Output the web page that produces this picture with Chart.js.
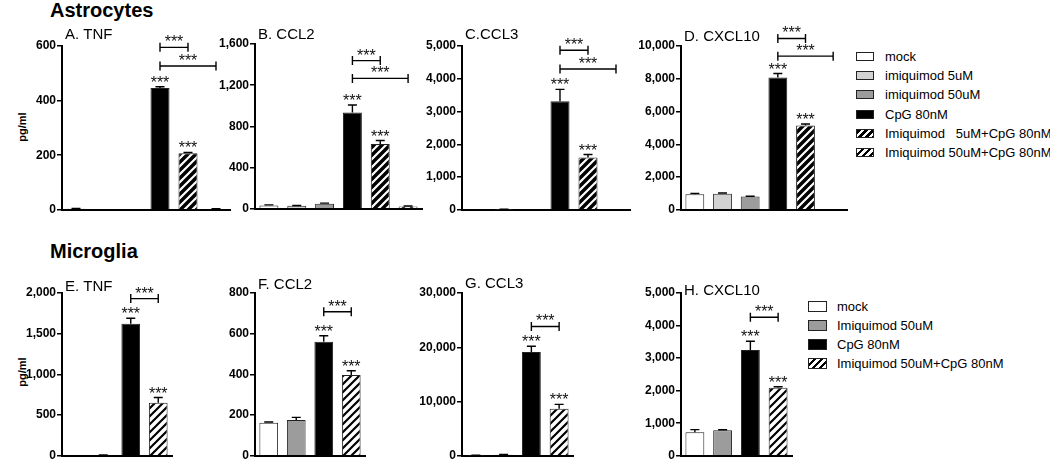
<!DOCTYPE html>
<html>
<head>
<meta charset="utf-8">
<script src="https://cdn.jsdelivr.net/npm/chart.js@4.4.0/dist/chart.umd.min.js"></script>
<style>
  body { margin: 0; background: #fff; width: 1050px; height: 463px; position: relative; overflow: hidden; font-family: "Liberation Sans", Arial, sans-serif; color: #000; }
  canvas { position: absolute; }
  .head { position: absolute; font-weight: bold; font-size: 20px; line-height: 20px; }
  .ylab { position: absolute; width: 40px; text-align: center; font-weight: bold; font-size: 11px; line-height: 14px; transform: rotate(-90deg); }
  .item { position: absolute; white-space: pre; font-size: 13px; line-height: 19px; height: 19px; }
  .sw { position: absolute; border: 1px solid #222; box-sizing: border-box; }
</style>
</head>
<body>
<div class="head" style="left:50px; top:0px;">Astrocytes</div>
<div class="head" style="left:50px; top:241px;">Microglia</div>
<div class="ylab" style="left:2px; top:120px;">pg/ml</div>
<div class="ylab" style="left:2px; top:365px;">pg/ml</div>
<div id="legendTop"></div>
<div id="legendBottom"></div>

<script>
'use strict';

// groups
const astroGroups = ['mock', 'imiquimod 5uM', 'imiquimod 50uM', 'CpG 80nM', 'Imiquimod   5uM+CpG 80nM', 'Imiquimod 50uM+CpG 80nM'];
const microGroups = ['mock', 'Imiquimod 50uM', 'CpG 80nM', 'Imiquimod 50uM+CpG 80nM'];

// astrocytes (pg/ml, mean and error)
const tnfAstro = [4, 0, 0, 446, 207, 3];
const tnfAstroErr = [1, 0, 0, 5, 3, 1];
const ccl2Astro = [33, 29, 48, 936, 629, 23];
const ccl2AstroErr = [5, 3, 7, 72, 34, 4];
const ccl3Astro = [0, 12, 0, 3313, 1596, 0];
const ccl3AstroErr = [0, 4, 0, 362, 90, 0];
const cxcl10Astro = [945, 987, 807, 8070, 5140, 0];
const cxcl10AstroErr = [60, 40, 18, 250, 100, 0];

// microglia
const tnfMicro = [0, 8, 1621, 652];
const tnfMicroErr = [0, 2, 69, 64];
const ccl2Micro = [163, 176, 560, 397];
const ccl2MicroErr = [3, 13, 30, 21];
const ccl3Micro = [100, 200, 19120, 8690];
const ccl3MicroErr = [30, 50, 1080, 780];
const cxcl10Micro = [724, 784, 3247, 2091];
const cxcl10MicroErr = [79, 16, 271, 29];

// tick labels
const ticksA = [0, 200, 400, 600];
const ticksB = [0, 400, 800, 1200, 1600];
const ticksC = [0, 1000, 2000, 3000, 4000, 5000];
const ticksD = [0, 2000, 4000, 6000, 8000, 10000];
const ticksE = [0, 500, 1000, 1500, 2000];
const ticksF = [0, 200, 400, 600, 800];
const ticksG = [0, 10000, 20000, 30000];
const ticksH = [0, 1000, 2000, 3000, 4000, 5000];

// significance
const starsAstro = ['', '', '', '***', '***', ''];
const starsMicro = ['', '', '***', '***'];
const bracketsA = [[3, 4, 595], [3, 5, 527]];
const bracketsB = [[3, 4, 1439], [3, 5, 1266]];
const bracketsC = [[3, 4, 4870], [3, 5, 4300]];
const bracketsD = [[3, 4, 10460], [3, 5, 9380]];
const bracketsE = [[2, 3, 1931]];
const bracketsF = [[2, 3, 708]];
const bracketsG = [[2, 3, 23830]];
const bracketsH = [[2, 3, 4255]];

const FONT = '"Liberation Sans", Arial, sans-serif';

// hatch patterns
function makeHatch(bg, fg, lw) {
  let c = document.createElement('canvas');
  c.width = 8; c.height = 8;
  let g = c.getContext('2d');
  g.fillStyle = bg;
  g.fillRect(0, 0, 8, 8);
  g.strokeStyle = fg;
  g.lineWidth = lw;
  g.beginPath();
  g.moveTo(-2, 10); g.lineTo(10, -2);
  g.moveTo(-6, 6); g.lineTo(6, -6);
  g.moveTo(2, 14); g.lineTo(14, 2);
  g.stroke();
  return g.createPattern(c, 'repeat');
}
const darkHatch = makeHatch('#000', '#fff', 2.2);
const lightHatch = makeHatch('#fff', '#000', 2.2);

const astroColors = ['#ffffff', '#d2d2d2', '#9c9c9c', '#000000', darkHatch, lightHatch];
const microColors = ['#ffffff', '#9c9c9c', '#000000', lightHatch];

let panels = [
  {title: 'A. TNF', labels: astroGroups, values: tnfAstro, errors: tnfAstroErr, ticks: ticksA, stars: starsAstro, brackets: bracketsA, colors: astroColors, left: 62, right: 230, top: 46, bottom: 212, canvasTop: 0, titleDy: -11},
  {title: 'B. CCL2', labels: astroGroups, values: ccl2Astro, errors: ccl2AstroErr, ticks: ticksB, stars: starsAstro, brackets: bracketsB, colors: astroColors, left: 255, right: 422, top: 44, bottom: 211, canvasTop: 0, titleDy: -9},
  {title: 'C.CCL3', labels: astroGroups, values: ccl3Astro, errors: ccl3AstroErr, ticks: ticksC, stars: starsAstro, brackets: bracketsC, colors: astroColors, left: 462, right: 630, top: 46, bottom: 212, canvasTop: 0, titleDy: -11},
  {title: 'D. CXCL10', labels: astroGroups, values: cxcl10Astro, errors: cxcl10AstroErr, ticks: ticksD, stars: starsAstro, brackets: bracketsD, colors: astroColors, left: 681, right: 847, top: 46, bottom: 212, canvasTop: 0, titleDy: -9},
  {title: 'E. TNF', labels: microGroups, values: tnfMicro, errors: tnfMicroErr, ticks: ticksE, stars: starsMicro, brackets: bracketsE, colors: microColors, left: 62, right: 172, top: 293, bottom: 458, canvasTop: 236, titleDy: -6},
  {title: 'F. CCL2', labels: microGroups, values: ccl2Micro, errors: ccl2MicroErr, ticks: ticksF, stars: starsMicro, brackets: bracketsF, colors: microColors, left: 255, right: 365, top: 293, bottom: 458, canvasTop: 236, titleDy: -8},
  {title: 'G. CCL3', labels: microGroups, values: ccl3Micro, errors: ccl3MicroErr, ticks: ticksG, stars: starsMicro, brackets: bracketsG, colors: microColors, left: 462, right: 573, top: 293, bottom: 458, canvasTop: 236, titleDy: -9},
  {title: 'H. CXCL10', labels: microGroups, values: cxcl10Micro, errors: cxcl10MicroErr, ticks: ticksH, stars: starsMicro, brackets: bracketsH, colors: microColors, left: 681, right: 792, top: 293, bottom: 458, canvasTop: 236, titleDy: -2}
];

// error bars, stars, brackets and panel title
function makeMarks(p) {
  return {
    id: 'marks',
    afterDatasetsDraw(chart) {
      let ctx = chart.ctx;
      let y = chart.scales.y;
      let meta = chart.getDatasetMeta(0);
      let area = chart.chartArea;
      ctx.save();
      ctx.strokeStyle = '#000';
      ctx.fillStyle = '#111';
      ctx.lineWidth = 1.4;
      ctx.textAlign = 'center';
      ctx.textBaseline = 'alphabetic';
      ctx.font = '16px ' + FONT;

      for (let i = 0; i < p.values.length; i++) {
        let cx = meta.data[i].x;
        let v = p.values[i];
        let e = p.errors[i];
        let yTop = y.getPixelForValue(v + e);
        if (e > 0) {
          ctx.beginPath();
          ctx.moveTo(cx, y.getPixelForValue(v));
          ctx.lineTo(cx, yTop);
          ctx.moveTo(cx - 4.5, yTop);
          ctx.lineTo(cx + 4.5, yTop);
          ctx.stroke();
        }
        if (p.stars[i]) {
          ctx.fillText(p.stars[i], cx, yTop + 1);
        }
      }

      p.brackets.forEach(b => {
        let x1 = meta.data[b[0]].x;
        let x2 = meta.data[b[1]].x;
        let yy = y.getPixelForValue(b[2]);
        ctx.beginPath();
        ctx.moveTo(x1, yy); ctx.lineTo(x2, yy);
        ctx.moveTo(x1, yy - 4.5); ctx.lineTo(x1, yy + 4.5);
        ctx.moveTo(x2, yy - 4.5); ctx.lineTo(x2, yy + 4.5);
        ctx.stroke();
        ctx.fillText('***', (x1 + x2) / 2, yy);
      });

      ctx.font = '15px ' + FONT;
      ctx.fillStyle = '#000';
      ctx.textAlign = 'left';
      ctx.textBaseline = 'middle';
      ctx.fillText(p.title, area.left + 3, area.top + p.titleDy);
      ctx.restore();
    }
  };
}

panels.forEach(p => {
  let canvas = document.createElement('canvas');
  let w = p.right - p.left + 64;
  let h = p.bottom - p.canvasTop + 6;
  canvas.width = w;
  canvas.height = h;
  canvas.style.width = w + 'px';
  canvas.style.height = h + 'px';
  canvas.style.left = (p.left - 60) + 'px';
  canvas.style.top = p.canvasTop + 'px';
  document.body.appendChild(canvas);

  new Chart(canvas.getContext('2d'), {
    type: 'bar',
    data: {
      labels: p.labels,
      datasets: [{
        data: p.values,
        backgroundColor: p.colors,
        borderColor: '#222',
        borderWidth: 1,
        barPercentage: 0.68,
        categoryPercentage: 1
      }]
    },
    options: {
      responsive: false,
      animation: false,
      devicePixelRatio: 1,
      layout: {padding: {left: 0, right: 4, top: p.top - p.canvasTop, bottom: 6}},
      plugins: {legend: {display: false}, tooltip: {enabled: false}},
      scales: {
        x: {
          grid: {display: false},
          ticks: {display: false},
          border: {display: true, color: '#000', width: 2},
          afterFit: s => { s.height = 0; }
        },
        y: {
          min: 0,
          max: p.ticks[p.ticks.length - 1],
          afterBuildTicks: s => { s.ticks = p.ticks.map(v => ({value: v})); },
          afterFit: s => { s.width = 60; },
          grid: {drawOnChartArea: false, drawTicks: true, tickLength: 5, color: '#000', lineWidth: 1.5},
          border: {color: '#000', width: 2},
          ticks: {
            color: '#000',
            padding: 1,
            font: {family: FONT, size: 12, weight: 'bold'},
            callback: v => v.toLocaleString('en-US')
          }
        }
      }
    },
    plugins: [makeMarks(p)]
  });
});

// legends
const cssFill = {
  '#ffffff': '#ffffff', '#d2d2d2': '#d2d2d2', '#9c9c9c': '#9c9c9c', '#000000': '#000000'
};
function swatchStyle(c) {
  if (c === darkHatch) return 'repeating-linear-gradient(135deg, #000 0 3px, #fff 3px 5px)';
  if (c === lightHatch) return 'repeating-linear-gradient(135deg, #fff 0 3px, #000 3px 5px)';
  return cssFill[c];
}
function buildLegend(el, names, colors, swX, textX, y0, step, swW, swH) {
  names.forEach((name, i) => {
    let cy = y0 + i * step;
    let sw = document.createElement('div');
    sw.className = 'sw';
    sw.style.left = swX + 'px';
    sw.style.top = (cy - swH / 2) + 'px';
    sw.style.width = swW + 'px';
    sw.style.height = swH + 'px';
    sw.style.background = swatchStyle(colors[i]);
    el.appendChild(sw);
    let t = document.createElement('div');
    t.className = 'item';
    t.style.left = textX + 'px';
    t.style.top = (cy - 9.5) + 'px';
    t.textContent = name;
    el.appendChild(t);
  });
}
buildLegend(document.getElementById('legendTop'), astroGroups, astroColors, 856, 885, 56.5, 19.2, 18, 9);
buildLegend(document.getElementById('legendBottom'), microGroups, microColors, 808, 837, 306, 19, 19, 11);
</script>
</body>
</html>
